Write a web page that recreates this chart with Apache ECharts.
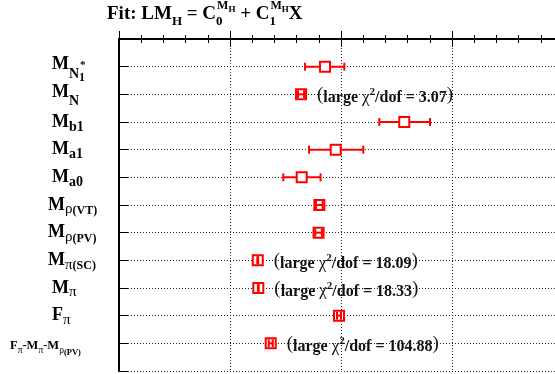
<!DOCTYPE html>
<html>
<head>
<meta charset="utf-8">
<script src="https://cdn.jsdelivr.net/npm/echarts@6/dist/echarts.min.js"></script>
<style>
  html, body { margin: 0; padding: 0; background: #fff; }
  #container { width: 555px; height: 374px; }
</style>
</head>
<body>
<div id="container"></div>
<script>
// rows, top to bottom (rich-text tick labels)
var rowLabels = [
    '{Mn|M}{s1|N}{ss|1}{st|*}',
    '{Mn|M}{sN|N}',
    '{M|M}{s|b1}',
    '{M|M}{s|a1}',
    '{M|M}{s|a0}',
    '{M|M}{g|ρ}{p|(VT)}',
    '{M|M}{g|ρ}{p|(PV)}',
    '{M|M}{g|π}{p|(SC)}',
    '{M|M}{g|π}',
    '{M|F}{g|π}',
    '{F|F}{g2|π}{F|-M}{g2|π}{F|-M}{g2|ρ}{p2|(PV)}'
];
// fitted value and error range per row
var centers = [1.856, 1.640, 2.570, 1.952, 1.646, 1.805, 1.798, 1.250, 1.255, 1.982, 1.367];
var lows    = [1.676, 1.613, 2.345, 1.712, 1.480, 1.775, 1.768, 1.246, 1.251, 1.964, 1.349];
var highs   = [2.030, 1.667, 2.802, 2.201, 1.816, 1.835, 1.828, 1.254, 1.259, 2.000, 1.385];
// chi2/dof notes (null = none)
var chi2 = [null, '3.07', null, null, null, null, null, '18.09', '18.33', null, '104.88'];

var labelStart = [42, 42, 42, 42, 42, 38, 38, 38, 42, 42, 0];

var serif = '"Liberation Serif", "DejaVu Serif", serif';
var red = '#ff0000';

var dom = document.getElementById('container');
var myChart = echarts.init(dom);

var data = centers.map(function (c, i) {
    return [c, i + 1, lows[i], highs[i], i];
});

function rs(size, pad, bold, extra) {
    var o = {
        fontFamily: serif, fontSize: size, lineHeight: size,
        fontWeight: bold ? 'bold' : 'normal',
        padding: pad, verticalAlign: 'top', color: '#000'
    };
    for (var k in extra) o[k] = extra[k];
    return o;
}

function renderItem(params, api) {
    var row = api.value(1);
    var c = api.coord([api.value(0), row]);
    var lo = api.coord([api.value(2), row])[0];
    var hi = api.coord([api.value(3), row])[0];
    var h = 5, cap = 4;
    var ls = { stroke: red, lineWidth: 2 };
    var box = {
        type: 'rect',
        shape: { x: c[0] - h, y: c[1] - h, width: 2 * h, height: 2 * h },
        style: { fill: '#fff', stroke: red, lineWidth: 2 }
    };
    var bar = [
        { type: 'line', shape: { x1: lo, y1: c[1], x2: hi, y2: c[1] }, style: ls },
        { type: 'line', shape: { x1: lo, y1: c[1] - cap, x2: lo, y2: c[1] + cap }, style: ls },
        { type: 'line', shape: { x1: hi, y1: c[1] - cap, x2: hi, y2: c[1] + cap }, style: ls }
    ];
    var children = (hi - c[0] < h) ? [box].concat(bar) : bar.concat([box]);
    var note = chi2[api.value(4)];
    if (note) {
        children.push({
            type: 'text',
            x: c[0] + 16,
            y: c[1],
            style: {
                text: '{par|(}{b|large }{g|χ}{sup|2}{b|/dof = ' + note + '}{par|)}',
                align: 'left',
                verticalAlign: 'middle',
                fill: '#111',
                rich: {
                    b: { fontFamily: serif, fontWeight: 'bold', fontSize: 16, lineHeight: 16, padding: [5, 0, 5, 0], verticalAlign: 'top', fill: '#111' },
                    par: { fontFamily: serif, fontSize: 19, lineHeight: 19, padding: [1, 0, 0, 0], verticalAlign: 'top', fill: '#111' },
                    g: { fontFamily: serif, fontSize: 17, lineHeight: 17, padding: [4, 0, 0, 0], verticalAlign: 'top', fill: '#111' },
                    sup: { fontFamily: serif, fontWeight: 'bold', fontSize: 11, lineHeight: 11, padding: [2, 0, 0, 0], verticalAlign: 'top', fill: '#111' }
                }
            }
        });
    }
    return { type: 'group', children: children };
}

var dotted = { color: '#222', width: 1, type: [1, 2] };

option = {
    backgroundColor: '#fff',
    animation: false,
    title: {
        left: 107,
        top: 0,
        padding: 0,
        text: '{b|Fit: LM}{s|H}{b| = C}{s0|0}{sp|M}{ssp|H}{b| + C}{s0|1}{sp|M}{ssp|H}{b|X}',
        textStyle: {
            rich: {
                b: rs(19, [5, 0, 0, 0], true),
                s: rs(13, [15, 0, 0, 0], true),
                s0: rs(13, [15, 0, 0, 0], true, { width: 1 }),
                sp: rs(12, [0, 0, 0, 0], true),
                ssp: rs(9, [5, 0, 0, 0], true)
            }
        }
    },
    grid: { left: 119, right: -8, top: 39, bottom: 3, outerBoundsMode: 'none' },
    xAxis: [
        {
            type: 'value', position: 'bottom', min: 0, max: 4, interval: 1,
            axisLine: { lineStyle: { color: '#000', width: 2 } },
            axisTick: { inside: true, length: 8, lineStyle: { color: '#000', width: 1 } },
            minorTick: { show: true, splitNumber: 5, length: 4, lineStyle: { color: '#000', width: 1 } },
            axisLabel: { show: false },
            splitLine: { show: true, lineStyle: dotted }
        },
        {
            type: 'value', position: 'top', min: 0, max: 4, interval: 1,
            axisLine: { lineStyle: { color: '#000', width: 2 } },
            axisTick: { inside: true, length: 8, lineStyle: { color: '#000', width: 1 } },
            minorTick: { show: true, splitNumber: 5, length: 4, lineStyle: { color: '#000', width: 1 } },
            axisLabel: { show: false },
            splitLine: { show: false }
        }
    ],
    yAxis: {
        type: 'value', inverse: true, min: 0, max: 12, interval: 1,
        axisLine: { show: true, lineStyle: { color: '#000', width: 2 } },
        axisTick: { show: true, inside: true, length: 9, lineStyle: { color: '#000', width: 1 } },
        splitLine: { show: true, lineStyle: dotted },
        axisLabel: {
            align: 'left',
            margin: 109,
            formatter: function (v) {
                var i = v - 1;
                if (i < 0 || i >= rowLabels.length) return '';
                return '{sp|}{pad' + labelStart[i] + '| }' + rowLabels[i];
            },
            rich: {
                sp: { lineHeight: 34, height: 34, verticalAlign: 'top' },
                pad42: { width: 42, fontSize: 1, verticalAlign: 'top' },
                pad38: { width: 38, fontSize: 1, verticalAlign: 'top' },
                pad0: { width: 0, fontSize: 1, verticalAlign: 'top' },
                M: rs(18, [8, 0, 8, 0], true),
                Mn: rs(18, [6, 0, 10, 0], true),
                s: rs(14, [15, 0, 0, 0], true),
                sN: rs(14, [17, 0, 0, 0], true),
                s1: rs(14, [18, 0, 0, 0], true),
                ss: rs(12, [22, 0, 0, 0], true, { width: 1 }),
                st: rs(11, [10, 0, 0, 0], true),
                g: rs(15, [14, 0, 0, 0], false),
                p: rs(12, [17, 0, 0, 0], true),
                F: rs(12.5, [13, 0, 8.5, 0], true),
                g2: rs(9.5, [19, 0, 0, 0], false),
                p2: rs(8.5, [22, 0, 0, 0], true)
            }
        }
    },
    series: [
        {
            type: 'custom',
            renderItem: renderItem,
            encode: { x: 0, y: 1 },
            data: data,
            clip: false
        }
    ]
};
myChart.setOption(option, true);
</script>
</body>
</html>
